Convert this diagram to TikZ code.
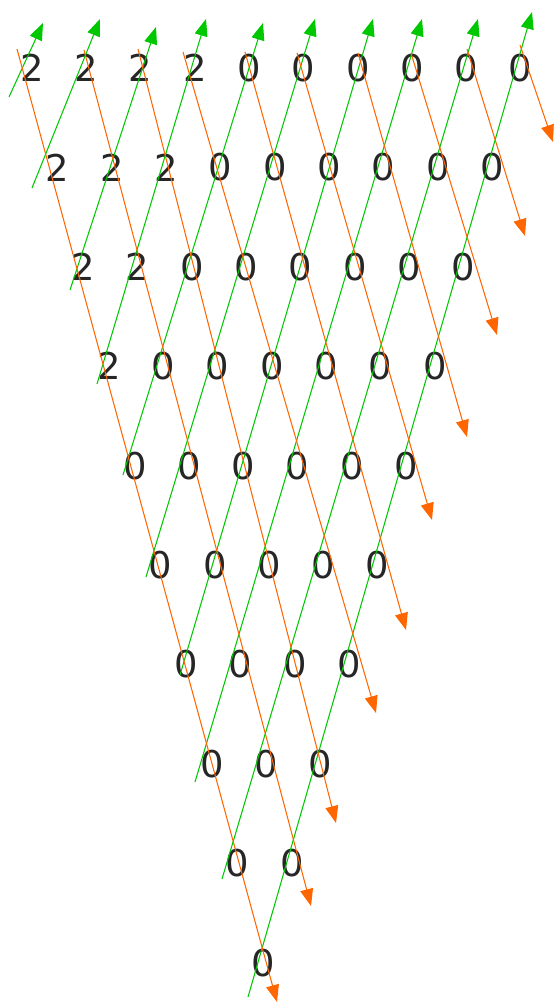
\documentclass[tikz,border=0pt]{standalone}
\usepackage{fontspec}
\setmainfont{DejaVu Sans}
\usetikzlibrary{arrows.meta}
\definecolor{upgreen}{RGB}{0,200,0}
\definecolor{downorange}{RGB}{255,102,0}
\begin{document}
\begin{tikzpicture}[x=0.02cm, y=-0.02cm,
    digit/.style={font=\fontsize{21}{25}\selectfont, text=black!85, inner sep=0pt},
    upline/.style={upgreen, line width=0.6pt, -{Triangle[length=0.34cm, width=0.26cm]}},
    downline/.style={downorange, line width=0.6pt, -{Triangle[length=0.34cm, width=0.26cm]}}]
    \useasboundingbox (0,0) rectangle (556,1003);

    % Draw Triangle of Digits
    \foreach \r in {0,...,9} {
        \pgfmathtruncatemacro{\last}{9-\r}
        \foreach \j in {0,...,\last} {
            \pgfmathtruncatemacro{\val}{(\j < 4-\r) ? 2 : 0}
            \node[digit] (d-\r-\j) at (32+25.7*\r+54.3*\j, 68+99.4*\r) {\val};
        }
    }

    % Draw Green Paths (going up)
    \foreach \k/\ax/\ay/\bx/\by in {0/9/97/43/23, 1/32/188/100/19, 2/70/290/156/27,
        3/97/384/206/19, 4/123/475/263/23, 5/146/577/315/19, 6/180/675/373/19,
        7/195/782/422/19, 8/222/879/478/19, 9/248/997/532/12} {
        \coordinate (g\k-a) at (\ax,\ay);
        \coordinate (g\k-b) at (\bx,\by);
        \draw[upline] (g\k-a) -- (g\k-b);
    }

    % Draw Orange Paths (going down)
    \foreach \k/\ax/\ay/\bx/\by in {0/17/49/277/1002, 1/84/50/311/906, 2/138/49/336/823,
        3/183/52/376/713, 4/245/52/406/630, 5/297/53/432/520, 6/358/53/467/437,
        7/411/53/497/335, 8/467/49/525/236, 9/520/45/553/142} {
        \coordinate (o\k-a) at (\ax,\ay);
        \coordinate (o\k-b) at (\bx,\by);
        \draw[downline] (o\k-a) -- (o\k-b);
    }

\end{tikzpicture}
\end{document}
